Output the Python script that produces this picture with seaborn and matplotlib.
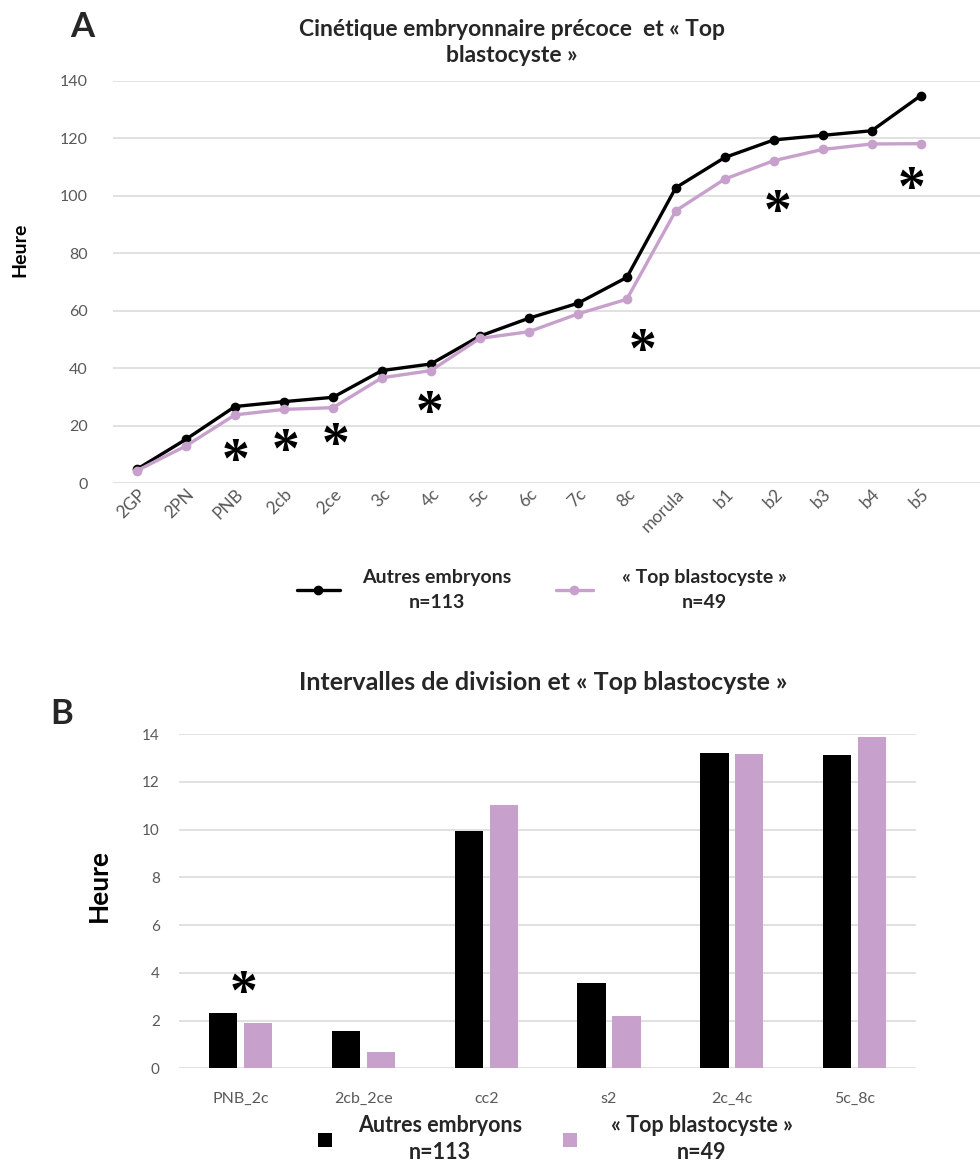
import numpy as np
import pandas as pd
import matplotlib
matplotlib.use("Agg")
import matplotlib.pyplot as plt
import matplotlib.transforms as mtransforms
from matplotlib.lines import Line2D
import seaborn as sns

# ---------------- data ----------------
stages = ["2GP", "2PN", "PNB", "2cb", "2ce", "3c", "4c", "5c", "6c", "7c", "8c",
          "morula", "b1", "b2", "b3", "b4", "b5"]
autres_a = [4.9, 15.3, 26.7, 28.4, 29.9, 39.2, 41.5, 51.2, 57.4, 62.6, 71.6,
            102.8, 113.3, 119.4, 121.0, 122.6, 134.8]
top_a = [4.4, 13.0, 23.8, 25.7, 26.3, 36.7, 39.2, 50.4, 52.7, 58.9, 64.0,
         94.8, 105.8, 112.2, 116.1, 118.0, 118.1]
star_a_x = [2.01, 3.04, 4.06, 5.98, 10.32, 13.07, 15.81]
star_a_y = [11.8, 15.4, 17.4, 28.7, 50.1, 98.5, 106.4]

intervals = ["PNB_2c", "2cb_2ce", "cc2", "s2", "2c_4c", "5c_8c"]
autres_b = [2.30, 1.58, 9.94, 3.56, 13.20, 13.13]
top_b = [1.90, 0.70, 11.01, 2.19, 13.16, 13.89]
star_b_x = [0.02]
star_b_y = [3.63]

groups = ["Autres embryons", "« Top blastocyste »"]
group_n = ["n=113", "n=49"]
title_a = "Cinétique embryonnaire précoce  et « Top\nblastocyste »"
title_b = "Intervalles de division et « Top blastocyste »"
ylabel = "Heure"

# ---------------- style ----------------
sns.set_theme(style="white")
plt.rcParams["font.family"] = ["Lato", "DejaVu Sans"]
BLACK = "#000000"
PINK = "#C7A0CC"
GRAY = "#595959"
GRID = "#D9D9D9"
palette = {groups[0]: BLACK, groups[1]: PINK}

W, H = 980, 1162
fig = plt.figure(figsize=(W / 100, H / 100), dpi=100)


def px_axes(left, top, right, bottom):
    return fig.add_axes([left / W, 1 - bottom / H, (right - left) / W, (bottom - top) / H])


# ---------------- panel A ----------------
axa = px_axes(112.5, 80.7, 980, 483.3)
dfa = pd.DataFrame({
    "stade": stages * 2,
    "Heure": autres_a + top_a,
    "groupe": [groups[0]] * len(stages) + [groups[1]] * len(stages),
})
sns.lineplot(data=dfa, x="stade", y="Heure", hue="groupe", hue_order=groups,
             palette=palette, marker="o", markersize=7, markeredgewidth=0,
             linewidth=2.4, sort=False, legend=False, ax=axa)
axa.set_xlim(-0.5, 17.21)
axa.set_ylim(0, 140)
axa.set_yticks(np.arange(0, 141, 20))
axa.grid(axis="y", color=GRID, linewidth=1.1)
axa.grid(axis="x", visible=False)
axa.set_axisbelow(True)
for s in axa.spines.values():
    s.set_visible(False)
axa.tick_params(axis="y", length=0, pad=18, labelsize=11.5, labelcolor=GRAY)
axa.tick_params(axis="x", length=0, pad=6, labelsize=12.5, labelcolor=GRAY)
axa.set_xlabel("")
axa.set_ylabel("")
for lab in axa.get_xticklabels():
    lab.set_rotation(45)
    lab.set_ha("right")
    lab.set_va("center")
    lab.set_rotation_mode("anchor")
    lab.set_transform(lab.get_transform() + mtransforms.ScaledTranslation(6 / 100, 0, fig.dpi_scale_trans))

star_off_a = mtransforms.offset_copy(axa.transData, fig=fig, x=0, y=-20, units="points")
for sx, sy in zip(star_a_x, star_a_y):
    axa.text(sx, sy, "*", transform=star_off_a, ha="center", va="baseline",
             fontsize=40, fontfamily="Liberation Serif", fontweight="bold", color="black")

fig.text(20 / W, 1 - 250 / H, ylabel, rotation=90, ha="center", va="center",
         fontsize=14, fontweight="bold", color="black")
fig.text(512 / W, 1 - 42.5 / H, title_a, ha="center", va="center", multialignment="center",
         fontsize=16.5, fontweight="bold", linespacing=1.3)
fig.text(82 / W, 1 - 27 / H, "A", ha="center", va="center", fontsize=25, fontweight="bold")

# legend A (two single-entry legends to match spacing)
leg_specs_a = [(0, 297, 2.2, 1.13), (1, 556, 1.9, 1.5)]
for i, xpx, hl, htp in leg_specs_a:
    handle = Line2D([], [], color=palette[groups[i]], lw=2.4, marker="o", ms=7, mew=0)
    leg = fig.legend(handles=[handle], labels=[groups[i] + "\n" + group_n[i]],
                     loc="center left", bbox_to_anchor=(xpx / W, 1 - 590 / H),
                     frameon=False, borderpad=0, borderaxespad=0, numpoints=1,
                     handlelength=hl, handletextpad=htp,
                     prop={"size": 14, "weight": "bold"})
    for t in leg.get_texts():
        t.set_multialignment("center")
        t.set_linespacing(1.6)

# ---------------- panel B ----------------
axb = px_axes(179.3, 734, 916, 1068.3)
dfb = pd.DataFrame({
    "intervalle": intervals * 2,
    "Heure": autres_b + top_b,
    "groupe": [groups[0]] * len(intervals) + [groups[1]] * len(intervals),
})
sns.barplot(data=dfb, x="intervalle", y="Heure", hue="groupe", hue_order=groups,
            palette=palette, saturation=1, width=0.57, gap=0.19, linewidth=0,
            legend=False, ax=axb)
axb.set_xlim(-0.5, 5.5)
axb.set_ylim(0, 14)
axb.set_yticks(np.arange(0, 15, 2))
axb.grid(axis="y", color=GRID, linewidth=1.1)
axb.grid(axis="x", visible=False)
axb.set_axisbelow(True)
for s in axb.spines.values():
    s.set_visible(False)
axb.tick_params(axis="y", length=0, pad=14, labelsize=11, labelcolor=GRAY)
axb.tick_params(axis="x", length=0, pad=17, labelsize=11.5, labelcolor=GRAY)
axb.set_xlabel("")
axb.set_ylabel("")

star_off_b = mtransforms.offset_copy(axb.transData, fig=fig, x=0, y=-20, units="points")
for sx, sy in zip(star_b_x, star_b_y):
    axb.text(sx, sy, "*", transform=star_off_b, ha="center", va="baseline",
             fontsize=40, fontfamily="Liberation Serif", fontweight="bold", color="black")

fig.text(99 / W, 1 - 885 / H, ylabel, rotation=90, ha="center", va="center",
         fontsize=19, fontweight="bold", color="black")
fig.text(543.5 / W, 1 - 683 / H, title_b, ha="center", va="center",
         fontsize=18, fontweight="bold")
fig.text(62 / W, 1 - 714 / H, "B", ha="center", va="center", fontsize=25, fontweight="bold")

leg_specs_b = [(0, 314, 1.0, 1.05), (1, 559, 1.0, 1.4)]
for i, xpx, hl, htp in leg_specs_b:
    handle = Line2D([], [], ls="none", marker="s", ms=10, color=palette[groups[i]], mew=0)
    leg = fig.legend(handles=[handle], labels=[groups[i] + "\n" + group_n[i]],
                     loc="center left", bbox_to_anchor=(xpx / W, 1 - 1139 / H),
                     frameon=False, borderpad=0, borderaxespad=0, numpoints=1,
                     handlelength=hl, handletextpad=htp,
                     prop={"size": 15.5, "weight": "bold"})
    for t in leg.get_texts():
        t.set_multialignment("center")
        t.set_linespacing(1.35)

fig.savefig("out.png", dpi=100, facecolor="white")
